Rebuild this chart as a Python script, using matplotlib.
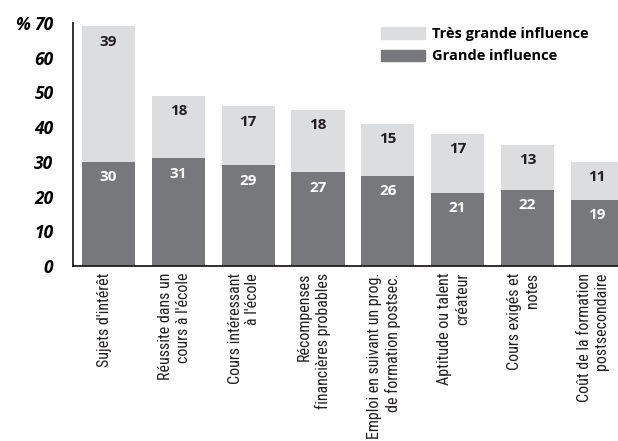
import matplotlib
matplotlib.use("Agg")
import matplotlib.pyplot as plt
from matplotlib.patches import Patch
from matplotlib import font_manager as fm

categories = [
    "Sujets d'intérêt",
    "Réussite dans un\ncours à l'école",
    "Cours intéressant\nà l'école",
    "Récompenses\nfinancières probables",
    "Emploi en suivant un prog.\nde formation postsec.",
    "Aptitude ou talent\ncréateur",
    "Cours exigés et\nnotes",
    "Coût de la formation\npostsecondaire",
]
grande = [30, 31, 29, 27, 26, 21, 22, 19]
tres_grande = [39, 18, 17, 18, 15, 17, 13, 11]
yticks = [0, 10, 20, 30, 40, 50, 60, 70]

LIGHT = "#dcdddf"
DARK = "#77787b"

names = {f.name for f in fm.fontManager.ttflist}
cond = [f for f in fm.fontManager.ttflist
        if f.name == "DejaVu Sans" and "ondensed" in f.fname and f.weight in (400, "normal")
        and f.style == "normal"]
if "Liberation Sans Narrow" in names:
    label_font = fm.FontProperties(family="Liberation Sans Narrow", size=11.5)
elif "Roboto Condensed" in names:
    label_font = fm.FontProperties(family="Roboto Condensed", size=11.5)
elif cond:
    label_font = fm.FontProperties(fname=cond[0].fname, size=10.5)
else:
    label_font = fm.FontProperties(family="DejaVu Sans", size=9.5)

W, H = 618, 441
fig = plt.figure(figsize=(W / 100, H / 100), dpi=100)
pitch = 69.8
x0 = 73
xmin, xmax = -0.51, 7.5
ax = fig.add_axes([x0 / W, 175 / H, (xmax - xmin) * pitch / W, 243 / H])

x = list(range(len(categories)))
ax.bar(x, grande, width=0.76, color=DARK, zorder=2)
ax.bar(x, tres_grande, bottom=grande, width=0.76, color=LIGHT, zorder=2)

ax.set_xlim(xmin, xmax)
ax.set_ylim(0, 70)

for xi, g, t in zip(x, grande, tres_grande):
    ax.annotate(str(g), (xi, g), xytext=(0, -11), textcoords="offset points",
                ha="center", va="center", color="white", fontsize=11,
                fontweight="bold", family=["Open Sans", "DejaVu Sans"])
    ax.annotate(str(t), (xi, g + t), xytext=(0, -11), textcoords="offset points",
                ha="center", va="center", color="#231f20", fontsize=11,
                fontweight="bold", family=["Open Sans", "DejaVu Sans"])

for s in ["top", "right"]:
    ax.spines[s].set_visible(False)
for s in ["left", "bottom"]:
    ax.spines[s].set_linewidth(1.3)
    ax.spines[s].set_color("#231f20")

ax.set_yticks(yticks)
ax.set_yticklabels([str(v) for v in yticks], fontsize=12.5, fontweight="bold",
                   fontstyle="italic", family=["Open Sans", "DejaVu Sans"])
ax.tick_params(axis="y", length=0, pad=14)
ax.set_xticks(x)
ax.set_xticklabels([])
ax.tick_params(axis="x", length=0)

for xi, lab in zip(x, categories):
    ax.annotate(lab, (xi, 0), xytext=(-3, -5), textcoords="offset points",
                rotation=90, ha="center", va="top", multialignment="right",
                fontproperties=label_font, linespacing=1.22, color="#231f20",
                annotation_clip=False)

fig.text(22 / W, 1 - 25 / H, "%", fontsize=12.5, fontweight="bold",
         fontstyle="italic", ha="center", va="center",
         family=["Open Sans", "DejaVu Sans"])

handles = [Patch(color=LIGHT), Patch(color=DARK)]
leg = fig.legend(handles, ["Très grande influence", "Grande influence"],
                 loc="upper left", bbox_to_anchor=(368 / W, 1 - 14 / H),
                 frameon=False, handlelength=3.0, handleheight=0.8,
                 handletextpad=0.5, labelspacing=0.55,
                 prop={"weight": "bold", "size": 10.5, "family": ["Open Sans", "DejaVu Sans"]})

fig.savefig("out.png", dpi=100)
